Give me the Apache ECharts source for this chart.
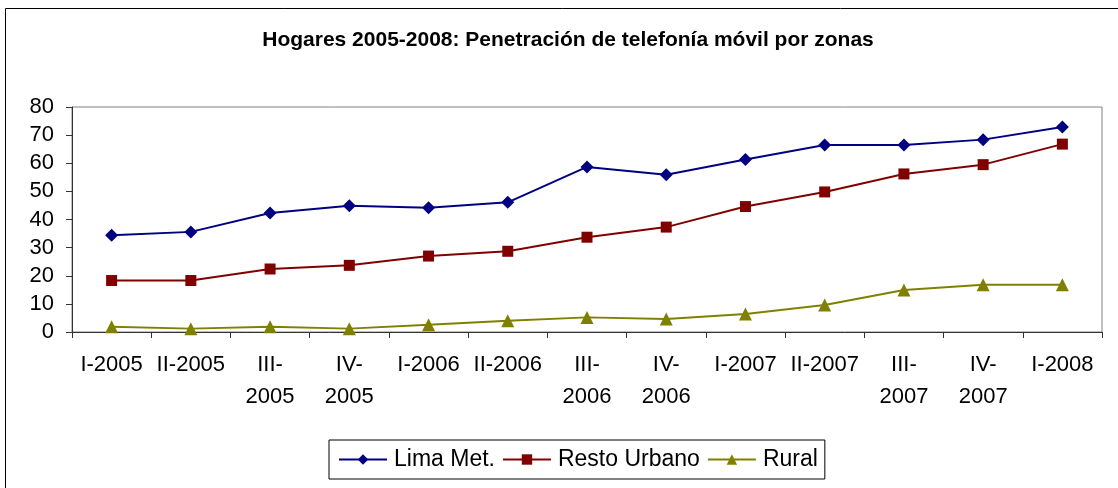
<!DOCTYPE html>
<html>
<head>
<meta charset="utf-8">
<script src="https://cdn.jsdelivr.net/npm/echarts@6/dist/echarts.min.js"></script>
<style>
  html, body { margin: 0; padding: 0; background: #fff; }
  #chart { width: 1118px; height: 488px; }
</style>
</head>
<body>
<div id="chart"></div>
<script>
// trimestres
var categories = ["I-2005", "II-2005", "III-2005", "IV-2005", "I-2006", "II-2006", "III-2006",
  "IV-2006", "I-2007", "II-2007", "III-2007", "IV-2007", "I-2008"];
// etiquetas tal como salen en el eje (con salto de línea)
var xTickLabels = ["I-2005", "II-2005", "III-\n2005", "IV-\n2005", "I-2006", "II-2006", "III-\n2006",
  "IV-\n2006", "I-2007", "II-2007", "III-\n2007", "IV-\n2007", "I-2008"];
var yTicks = [0, 10, 20, 30, 40, 50, 60, 70, 80];

var limaMet = [34.4, 35.6, 42.3, 44.9, 44.2, 46.1, 58.7, 55.9, 61.3, 66.5, 66.5, 68.4, 72.9];
var restoUrbano = [18.3, 18.3, 22.4, 23.7, 27.0, 28.7, 33.7, 37.3, 44.6, 49.8, 56.2, 59.5, 66.8];
var rural = [1.9, 1.2, 1.9, 1.2, 2.6, 4.0, 5.2, 4.6, 6.4, 9.6, 14.9, 16.8, 16.8];

var font = "'Liberation Sans', Arial, sans-serif";

var myChart = echarts.init(document.getElementById("chart"), null, { renderer: "canvas" });

var option = {
  animation: false,
  backgroundColor: "#fff",
  textStyle: { fontFamily: font },
  title: {
    text: "Hogares 2005-2008: Penetración de telefonía móvil por zonas",
    left: 563,
    textAlign: "center",
    top: 25,
    textStyle: { fontFamily: font, fontSize: 21, fontWeight: "bold", color: "#000" }
  },
  graphic: [
    {
      type: "rect",
      shape: { x: 5.5, y: 8.5, width: 1300, height: 700 },
      style: { fill: null, stroke: "#000", lineWidth: 1 },
      silent: true,
      z: 0
    }
  ],
  legend: {
    data: ["Lima Met.", "Resto Urbano", "Rural"],
    left: 329,
    top: 440,
    orient: "horizontal",
    itemWidth: 48,
    itemHeight: 13,
    itemGap: 7,
    padding: [8, 7, 8, 9],
    borderColor: "#000",
    borderWidth: 1,
    textStyle: { fontFamily: font, fontSize: 23, color: "#000", padding: [0, 0, 0, 2] }
  },
  grid: {
    left: 72,
    right: 16,
    top: 107,
    bottom: 156,
    show: true,
    borderColor: "#808080",
    borderWidth: 1,
    backgroundColor: "#fff"
  },
  xAxis: {
    type: "category",
    data: categories,
    boundaryGap: true,
    axisLine: { lineStyle: { color: "#333", width: 1 } },
    axisTick: { show: true, alignWithLabel: false, length: 6, lineStyle: { color: "#333" } },
    axisLabel: {
      interval: 0,
      margin: 17,
      fontSize: 22,
      lineHeight: 32,
      color: "#000",
      fontFamily: font,
      formatter: function (value, index) { return xTickLabels[index]; }
    },
    splitLine: { show: false }
  },
  yAxis: {
    type: "value",
    min: yTicks[0],
    max: yTicks[yTicks.length - 1],
    interval: 10,
    axisLine: { show: true, lineStyle: { color: "#333", width: 1 } },
    axisTick: { show: true, length: 6, lineStyle: { color: "#333" } },
    axisLabel: { margin: 18, fontSize: 22, color: "#000", fontFamily: font },
    splitLine: { show: false }
  },
  series: [
    {
      name: "Lima Met.",
      type: "line",
      data: limaMet,
      symbol: "diamond",
      symbolSize: 13,
      lineStyle: { color: "#000080", width: 2 },
      itemStyle: { color: "#000080" }
    },
    {
      name: "Resto Urbano",
      type: "line",
      data: restoUrbano,
      symbol: "rect",
      symbolSize: 11,
      lineStyle: { color: "#800000", width: 2 },
      itemStyle: { color: "#800000" }
    },
    {
      name: "Rural",
      type: "line",
      data: rural,
      symbol: "triangle",
      symbolSize: 13,
      lineStyle: { color: "#808000", width: 2 },
      itemStyle: { color: "#808000" }
    }
  ]
};

myChart.setOption(option);
window.addEventListener("resize", function () {
  myChart.resize();
});
</script>
</body>
</html>
